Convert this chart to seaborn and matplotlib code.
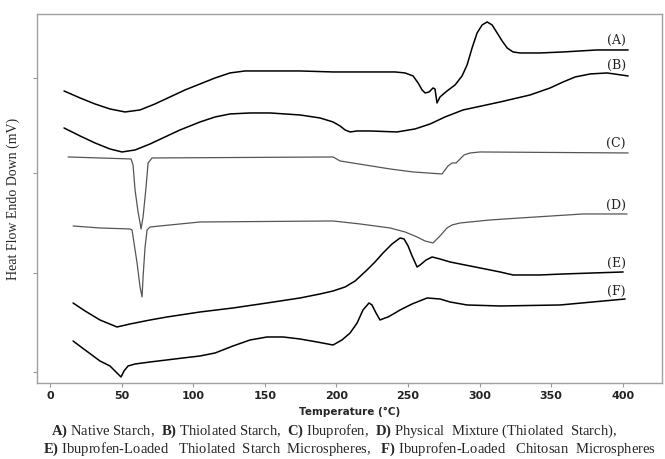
import numpy as np
import pandas as pd
import matplotlib
matplotlib.use("Agg")
import matplotlib.pyplot as plt
import seaborn as sns

# ---------------------------------------------------------------
# DSC traces (temperature in °C, offset signal)
# ---------------------------------------------------------------
temp_a = [9.8, 21.0, 31.4, 41.9, 52.4, 62.9, 73.3, 83.8, 94.3, 104.8, 115.3, 125.7,
          136.2, 153.7, 174.6, 197.7, 223.5, 241.0, 248.0, 253.6, 257.1, 259.9,
          262.0, 264.8, 267.5, 268.9, 270.3, 272.4, 277.3, 282.9, 287.8, 291.3,
          294.8, 298.3, 301.8, 305.3, 308.8, 312.3, 315.8, 319.3, 323.4, 328.3,
          342.3, 358.4, 382.1, 403.8]
flow_a = [292, 285, 279, 274, 271, 273, 279, 286, 293, 299, 305, 310,
          312, 312, 312, 311, 311, 311, 310, 307, 300, 293,
          290, 291, 295, 294, 280, 286, 292, 298, 307, 318,
          335, 350, 358, 361, 358, 350, 342, 335, 331, 330,
          330, 331, 333, 333]

temp_b = [9.8, 21.0, 31.4, 41.9, 50.3, 59.4, 69.9, 80.3, 90.8, 104.8, 115.3, 125.7,
          139.7, 153.7, 174.6, 188.6, 197.7, 202.6, 206.1, 209.6, 214.5, 223.5,
          242.4, 254.9, 265.5, 275.9, 288.5, 314.4, 335.3, 349.3, 358.4, 366.8,
          377.3, 389.1, 403.8]
flow_b = [255, 247, 240, 234, 231, 233, 239, 246, 253, 261, 266, 269,
          270, 270, 268, 265, 261, 257, 253, 251, 252, 252,
          251, 254, 259, 266, 273, 281, 288, 295, 301, 306,
          309, 310, 307]

temp_c = [12.6, 56.6, 58.0, 59.4, 61.5, 62.9, 63.6, 65.0, 67.1, 68.5, 71.3,
          197.7, 202.6, 237.5, 253.6, 273.8, 275.9, 278.0, 280.8, 283.6, 286.4,
          289.2, 293.4, 300.4, 403.8]
flow_c = [226, 224, 218, 193, 171, 160, 154, 166, 196, 220, 225,
          226, 222, 214, 211, 209, 213, 217, 220, 220, 224,
          228, 230, 231, 230]

temp_d = [16.1, 34.9, 55.9, 57.3, 60.8, 62.9, 64.3, 65.0, 66.4, 67.8, 69.9,
          104.8, 197.7, 216.6, 237.5, 248.0, 256.4, 261.9, 267.5, 272.4, 277.3,
          280.8, 286.4, 307.3, 328.3, 372.3, 403.1]
flow_d = [157, 155, 154, 153, 120, 96, 86, 106, 136, 153, 156,
          161, 162, 159, 155, 151, 146, 142, 140, 147, 155,
          158, 160, 163, 165, 169, 169]

temp_e = [16.1, 24.5, 34.9, 46.8, 55.9, 69.9, 81.7, 104.8, 127.8, 151.6, 174.6,
          188.6, 197.7, 206.1, 213.1, 221.4, 227.0, 232.6, 238.9, 244.5, 247.3,
          250.1, 252.9, 256.4, 258.5, 262.7, 266.9, 272.4, 279.4, 296.9, 314.4,
          323.4, 342.3, 358.4, 400.3]
flow_e = [80, 72, 63, 56, 59, 63, 66, 71, 75, 80, 85,
          89, 92, 96, 102, 113, 121, 130, 139, 145, 144,
          137, 127, 116, 118, 123, 126, 124, 121, 116, 111,
          108, 108, 109, 111]

temp_f = [16.1, 24.5, 34.9, 41.9, 46.1, 49.6, 51.7, 54.5, 59.4, 69.9, 92.9,
          104.8, 115.3, 127.8, 139.7, 151.6, 162.8, 174.6, 186.5, 197.7, 203.9,
          209.6, 214.5, 218.6, 222.8, 224.9, 227.7, 230.5, 234.0, 236.1, 241.0,
          244.5, 252.9, 263.4, 272.4, 279.4, 291.3, 314.4, 356.3, 401.7]
flow_f = [42, 33, 22, 17, 11, 6, 12, 17, 19, 21, 25,
          27, 30, 37, 43, 46, 46, 44, 41, 38, 43,
          50, 60, 73, 80, 78, 70, 63, 65, 66, 70,
          73, 79, 85, 84, 81, 78, 77, 78, 84]

curve_names = ["(A)", "(B)", "(C)", "(D)", "(E)", "(F)"]
label_temp = 395.4
label_flow = [343, 318, 240, 178, 120, 92]

x_ticks = [0, 50, 100, 150, 200, 250, 300, 350, 400]
y_ticks = [11, 110, 210, 305]

caption_1 = (r"$\mathbf{A)}$ Native Starch,  $\mathbf{B)}$ Thiolated Starch,  "
             r"$\mathbf{C)}$ Ibuprofen,  $\mathbf{D)}$ Physical  Mixture (Thiolated  Starch),")
caption_2 = (r"$\mathbf{E)}$ Ibuprofen-Loaded   Thiolated  Starch  Microspheres,   "
             r"$\mathbf{F)}$ Ibuprofen-Loaded   Chitosan  Microspheres")

# ---------------------------------------------------------------
sns.set_style("white")
plt.rcParams["mathtext.fontset"] = "custom"
plt.rcParams["mathtext.rm"] = "Liberation Serif"
plt.rcParams["mathtext.bf"] = "Liberation Serif:bold"

fig = plt.figure(figsize=(6.65, 4.59), dpi=100)
ax = fig.add_axes([0.0556, 0.1656, 0.94, 0.804])

series = [(temp_a, flow_a, "black", 1.1),
          (temp_b, flow_b, "black", 1.1),
          (temp_c, flow_c, "#555555", 0.9),
          (temp_d, flow_d, "#555555", 0.9),
          (temp_e, flow_e, "black", 1.1),
          (temp_f, flow_f, "black", 1.1)]
for t, f, col, lw in series:
    df = pd.DataFrame({"Temperature": t, "Flow": f})
    sns.lineplot(data=df, x="Temperature", y="Flow", ax=ax, color=col,
                 linewidth=lw, sort=False, estimator=None)

for name, yv in zip(curve_names, label_flow):
    ax.text(label_temp, yv, name, ha="center", va="center",
            fontsize=9, family="DejaVu Serif", color="#222222")

ax.set_xlim(-9.1, 427.5)
ax.set_ylim(0, 369)
ax.set_xticks(x_ticks)
ax.set_yticks(y_ticks)
ax.set_yticklabels([])
ax.tick_params(axis="both", bottom=True, left=True, length=3, width=0.8,
               color="#999999", direction="out")
ax.tick_params(axis="x", labelsize=8, pad=3)
for lab in ax.get_xticklabels():
    lab.set_fontweight("bold")
    lab.set_color("#222222")
for s in ax.spines.values():
    s.set_color("#a0a0a0")
    s.set_linewidth(1.0)

ax.set_xlabel("Temperature (°C)", fontsize=7.5, fontweight="bold", labelpad=4)
ax.set_ylabel("Heat Flow Endo Down (mV)", fontsize=10, family="Liberation Serif",
              labelpad=6)

fig.text(0.503, 0.061, caption_1, ha="center", va="center", fontsize=10.5,
         family="Liberation Serif")
fig.text(0.526, 0.021, caption_2, ha="center", va="center", fontsize=10.5,
         family="Liberation Serif")

fig.savefig("out.png", dpi=100)
